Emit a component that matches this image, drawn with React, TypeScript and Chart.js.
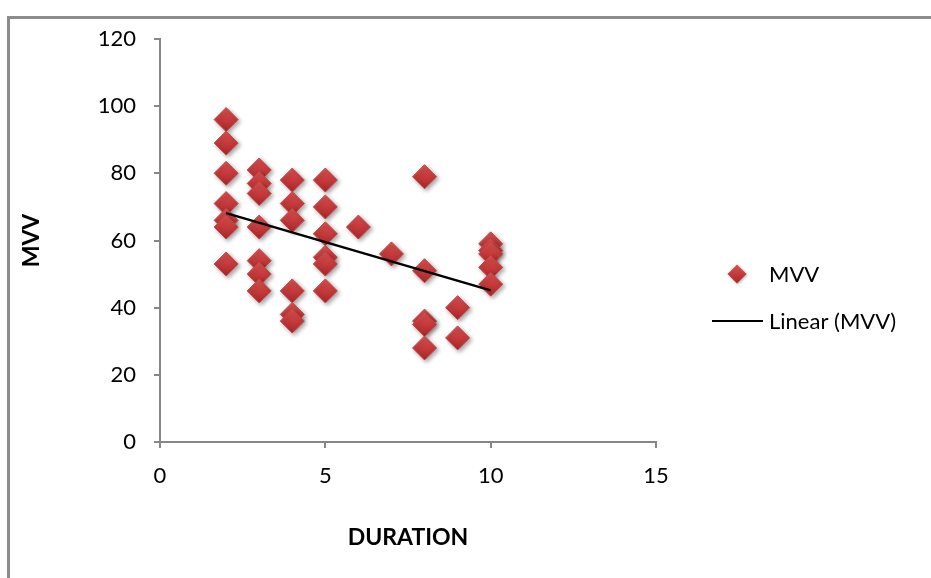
import React, { useEffect, useRef } from "react";
import { Chart, registerables } from "chart.js";

Chart.register(...registerables);

// Duration (years) and MVV for each subject, grouped by duration
const durationValues: number[] = [
  2, 2, 2, 2, 2, 2, 2,
  3, 3, 3, 3, 3, 3, 3,
  4, 4, 4, 4, 4, 4,
  5, 5, 5, 5, 5, 5,
  6,
  7,
  8, 8, 8, 8, 8,
  9, 9,
  10, 10, 10, 10, 10,
];
const mvvValues: number[] = [
  96, 89, 80, 71, 66, 64, 53,
  81, 77, 74, 64, 54, 50, 45,
  78, 71, 66, 45, 38, 36,
  78, 70, 62, 55, 53, 45,
  64,
  56,
  79, 51, 36, 35, 28,
  40, 31,
  59, 57, 56, 52, 47,
];

const xTicks: number[] = [0, 5, 10, 15];
const yTicks: number[] = [0, 20, 40, 60, 80, 100, 120];

const seriesLabel = "MVV";
const trendLabel = "Linear (MVV)";
const xTitle = "DURATION";
const yTitle = "MVV";

const FONT = "Lato, 'Open Sans', sans-serif";
const AXIS_GREY = "#868686";

// ordinary least-squares fit of MVV on duration
function linearFit(xs: number[], ys: number[]) {
  const n = xs.length;
  const mx = xs.reduce((a, b) => a + b, 0) / n;
  const my = ys.reduce((a, b) => a + b, 0) / n;
  let sxy = 0;
  let sxx = 0;
  for (let i = 0; i < n; i++) {
    sxy += (xs[i] - mx) * (ys[i] - my);
    sxx += (xs[i] - mx) * (xs[i] - mx);
  }
  const slope = sxy / sxx;
  return { slope, intercept: my - slope * mx };
}

function diamondGradient(ctx: CanvasRenderingContext2D, x: number, y: number, r: number) {
  const g = ctx.createLinearGradient(x, y - r, x, y + r);
  g.addColorStop(0, "#D85250");
  g.addColorStop(0.5, "#C63A3B");
  g.addColorStop(1, "#A8272A");
  return g;
}

const POINT_R = 12;

const framePlugin = {
  id: "frame",
  beforeDraw(chart: any) {
    const { ctx, width, height } = chart;
    ctx.save();
    ctx.fillStyle = "#ffffff";
    ctx.fillRect(0, 0, width, height);
    ctx.strokeStyle = "#8c8c8c";
    ctx.lineWidth = 3;
    ctx.beginPath();
    ctx.moveTo(8.5, height + 2);
    ctx.lineTo(8.5, 17.5);
    ctx.lineTo(width + 2, 17.5);
    ctx.stroke();
    ctx.restore();
  },
};

const shadowPlugin = {
  id: "markerShadow",
  beforeDatasetDraw(chart: any, args: any) {
    if (chart.data.datasets[args.index].type !== "scatter") return;
    const ctx = chart.ctx;
    ctx.save();
    ctx.shadowColor = "rgba(0,0,0,0.35)";
    ctx.shadowBlur = 4;
    ctx.shadowOffsetX = 2;
    ctx.shadowOffsetY = 2;
  },
  afterDatasetDraw(chart: any, args: any) {
    if (chart.data.datasets[args.index].type !== "scatter") return;
    chart.ctx.restore();
  },
};

const legendPlugin = {
  id: "sideLegend",
  afterDraw(chart: any) {
    const ctx: CanvasRenderingContext2D = chart.ctx;
    const ds = chart.data.datasets;
    const scatter = ds.find((d: any) => d.type === "scatter");
    const trend = ds.find((d: any) => d.type === "line");
    ctx.save();
    ctx.font = `22px ${FONT}`;
    ctx.fillStyle = "#000";
    ctx.textBaseline = "middle";
    ctx.textAlign = "left";

    // marker entry
    const mx = 737;
    const my = 274;
    const r = 9.5;
    ctx.save();
    ctx.shadowColor = "rgba(0,0,0,0.3)";
    ctx.shadowBlur = 3;
    ctx.shadowOffsetX = 1;
    ctx.shadowOffsetY = 1;
    ctx.beginPath();
    ctx.moveTo(mx, my - r);
    ctx.lineTo(mx + r, my);
    ctx.lineTo(mx, my + r);
    ctx.lineTo(mx - r, my);
    ctx.closePath();
    ctx.fillStyle = diamondGradient(ctx, mx, my, r);
    ctx.fill();
    ctx.restore();
    ctx.fillText(scatter.label, 769, my + 1);

    // trendline entry
    const ly = 321;
    ctx.strokeStyle = "#000";
    ctx.lineWidth = 2;
    ctx.beginPath();
    ctx.moveTo(712, ly);
    ctx.lineTo(763, ly);
    ctx.stroke();
    ctx.fillText(trend.label, 769, ly + 1);
    ctx.restore();
  },
};

export default function App() {
  const canvasRef = useRef<HTMLCanvasElement | null>(null);

  useEffect(() => {
    const canvas = canvasRef.current;
    if (!canvas) return;

    const points = durationValues.map((x, i) => ({ x, y: mvvValues[i] }));
    const fit = linearFit(durationValues, mvvValues);
    const xMin = Math.min(...durationValues);
    const xMax = Math.max(...durationValues);
    const trendPoints = [
      { x: xMin, y: fit.intercept + fit.slope * xMin },
      { x: xMax, y: fit.intercept + fit.slope * xMax },
    ];

    const chart = new Chart(canvas, {
      type: "scatter",
      data: {
        datasets: [
          {
            type: "line",
            label: trendLabel,
            data: trendPoints,
            borderColor: "#000",
            borderWidth: 2.5,
            pointRadius: 0,
            fill: false,
            order: 0,
          },
          {
            type: "scatter",
            label: seriesLabel,
            data: points,
            pointStyle: "rectRot",
            pointRadius: POINT_R,
            pointHoverRadius: POINT_R,
            pointBorderWidth: 1,
            pointBorderColor: "#C54445",
            pointBackgroundColor: (c: any) => {
              const sx = c.chart.scales?.x;
              const sy = c.chart.scales?.y;
              if (!sx || !sy || !c.raw) return "#C0393B";
              const px = sx.getPixelForValue(c.raw.x);
              const py = sy.getPixelForValue(c.raw.y);
              if (!Number.isFinite(px) || !Number.isFinite(py)) return "#C0393B";
              return diamondGradient(c.chart.ctx, px, py, POINT_R);
            },
            order: 1,
          },
        ] as any,
      },
      options: {
        animation: false,
        responsive: false,
        events: [],
        layout: { padding: { left: 0, top: 39, right: 275, bottom: 0 } },
        plugins: {
          legend: { display: false },
          tooltip: { enabled: false },
        },
        scales: {
          x: {
            type: "linear",
            position: "bottom",
            min: 0,
            max: 15,
            afterBuildTicks: (s: any) => {
              s.ticks = xTicks.map((v) => ({ value: v }));
            },
            afterFit: (s: any) => {
              s.height = 136;
            },
            ticks: {
              color: "#000",
              font: { family: FONT, size: 22 },
              padding: 15,
              maxRotation: 0,
            },
            grid: {
              drawOnChartArea: false,
              drawTicks: true,
              tickLength: 6,
              color: AXIS_GREY,
              lineWidth: 2,
            },
            border: { color: AXIS_GREY, width: 2 },
            title: {
              display: true,
              text: xTitle,
              color: "#000",
              font: { family: FONT, size: 23, weight: "bold" },
              padding: { top: 0, bottom: 27 },
            },
          },
          y: {
            type: "linear",
            min: 0,
            max: 120,
            afterBuildTicks: (s: any) => {
              s.ticks = yTicks.map((v) => ({ value: v }));
            },
            afterFit: (s: any) => {
              s.width = 160;
            },
            ticks: {
              color: "#000",
              font: { family: FONT, size: 22 },
              padding: 18,
            },
            grid: {
              drawOnChartArea: false,
              drawTicks: true,
              tickLength: 6,
              color: AXIS_GREY,
              lineWidth: 2,
            },
            border: { color: AXIS_GREY, width: 2 },
            title: {
              display: true,
              text: yTitle,
              color: "#000",
              font: { family: FONT, size: 23, weight: "bold" },
              padding: { top: 18, bottom: 0 },
            },
          },
        },
      },
      plugins: [framePlugin, shadowPlugin, legendPlugin],
    });

    return () => chart.destroy();
  }, []);

  return (
    <div style={{ position: "fixed", left: 0, top: 0, width: 931, height: 578, background: "#fff" }}>
      <canvas ref={canvasRef} width={931} height={578} />
    </div>
  );
}
